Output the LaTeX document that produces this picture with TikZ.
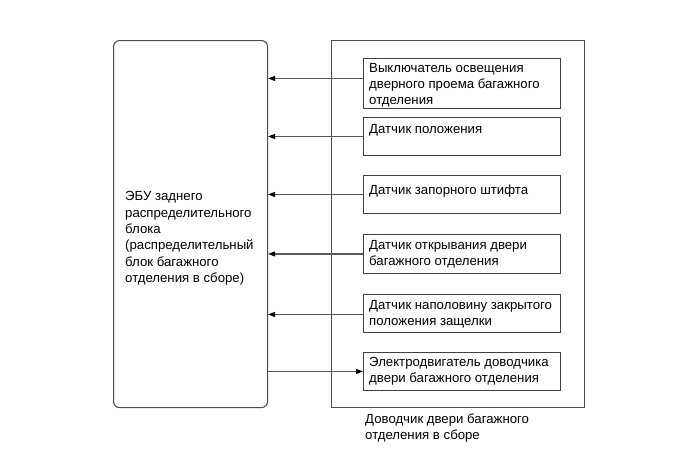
\documentclass[tikz,border=0pt]{standalone}
\usepackage{fontspec}
\setmainfont{Liberation Sans}
\usetikzlibrary{arrows.meta}
\begin{document}
\begin{tikzpicture}[x=1pt,y=-1pt,
  lbl/.style={inner sep=0pt,anchor=north west,align=left,font=\fontsize{13.2}{16.3}\selectfont},
  sbox/.style={draw=black!75,line width=0.9pt,inner sep=0pt,minimum width=197pt,anchor=north west},
  conn/.style={draw=black!65,line width=1.1pt},
  tip/.style={-{Triangle[length=7pt,width=5pt,fill=black,color=black]}}]
\useasboundingbox (0,0) rectangle (686,467);
% ECU
\node[draw=black!70,line width=1.1pt,rounded corners=6pt,inner sep=0pt,minimum width=154pt,minimum height=367pt,anchor=north west] (ecu) at (113,40) {};
\node[lbl] (ecut) at (125,191.5) {ЭБУ заднего\\распределительного\\блока\\(распределительный\\блок багажного\\отделения в сборе)};
% assembly
\node[draw=black!70,line width=1.0pt,inner sep=0pt,minimum width=253pt,minimum height=367pt,anchor=north west] (asm) at (331,40) {};
\node[lbl] (asmt) at (365,413.5) {Доводчик двери багажного\\отделения в сборе};
% sensor boxes
\node[sbox,minimum height=50pt] (s1) at (363,58) {};
\node[sbox,minimum height=38pt] (s2) at (363,117) {};
\node[sbox,minimum height=38pt] (s3) at (363,175) {};
\node[sbox,minimum height=39pt] (s4) at (363,234) {};
\node[sbox,minimum height=38pt] (s5) at (363,294) {};
\node[sbox,minimum height=38pt] (s6) at (363,352) {};
\node[lbl] at ([xshift=6pt,yshift=-5pt]s1.north west) {Выключатель освещения\\дверного проема багажного\\отделения};
\node[lbl] at ([xshift=6pt,yshift=-7pt]s2.north west) {Датчик положения};
\node[lbl] at ([xshift=6pt,yshift=-9.5pt]s3.north west) {Датчик запорного штифта};
\node[lbl] at ([xshift=6pt,yshift=-6pt]s4.north west) {Датчик открывания двери\\багажного отделения};
\node[lbl] at ([xshift=6pt,yshift=-6pt]s5.north west) {Датчик наполовину закрытого\\положения защелки};
\node[lbl] at ([xshift=6pt,yshift=-5pt]s6.north west) {Электродвигатель доводчика\\двери багажного отделения};
% connectors
\draw[conn,tip] ([yshift=5pt]s1.west) -- ([yshift=5pt]s1.west -| ecu.east);
\draw[conn,tip] (s2.west) -- (s2.west -| ecu.east);
\draw[conn,tip] (s3.west) -- (s3.west -| ecu.east);
\draw[conn,tip] (s4.west) -- (s4.west -| ecu.east);
\draw[conn,tip] ([yshift=-1pt]s5.west) -- ([yshift=-1pt]s5.west -| ecu.east);
\draw[conn,tip] (s6.west -| ecu.east) -- (s6.west);
\end{tikzpicture}
\end{document}
